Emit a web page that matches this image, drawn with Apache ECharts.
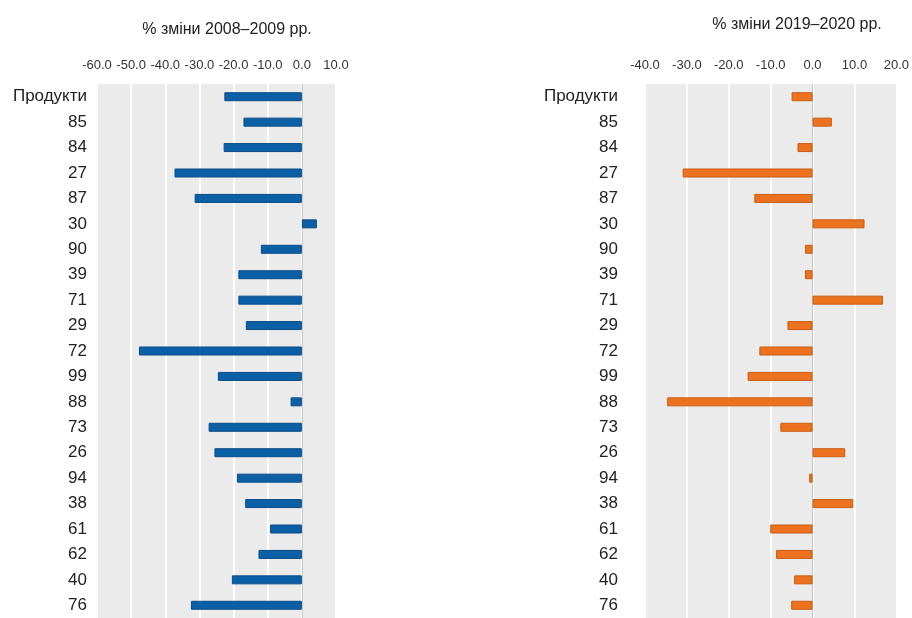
<!DOCTYPE html>
<html>
<head>
<meta charset="utf-8">
<script src="https://cdn.jsdelivr.net/npm/echarts@6/dist/echarts.min.js"></script>
<style>
  html, body { margin: 0; padding: 0; background: #ffffff; }
  #chart { width: 912px; height: 618px; }
</style>
</head>
<body>
<div id="chart"></div>
<script>
// категорії (товарні групи) і зміни у відсотках
const categories = ['Продукти', '85', '84', '27', '87', '30', '90', '39', '71', '29', '72',
  '99', '88', '73', '26', '94', '38', '61', '62', '40', '76']
const change2009 = [-22.7, -17.1, -22.9, -37.3, -31.4, 4.4, -12.0, -18.6, -18.6, -16.4, -47.7,
  -24.6, -3.3, -27.3, -25.6, -19.0, -16.6, -9.3, -12.7, -20.5, -32.5]
const change2020 = [-5.0, 4.6, -3.6, -31.0, -13.9, 12.4, -1.8, -1.8, 16.8, -6.0, -12.7,
  -15.5, -34.7, -7.7, 7.8, -0.8, 9.7, -10.1, -8.7, -4.4, -5.1]
const titles = ['% зміни 2008–2009 рр.', '% зміни 2019–2020 рр.']

const font = '"Liberation Sans Narrow", "Arial Narrow", "Liberation Sans", Arial, sans-serif'

function valueAxis(gridIndex, min, max) {
  return {
    type: 'value',
    gridIndex,
    position: 'top',
    min,
    max,
    interval: 10,
    axisLine: { show: false },
    axisTick: { show: false },
    splitLine: { show: true, lineStyle: { color: '#ffffff', width: 2 } },
    axisLabel: {
      margin: 12,
      color: '#333333',
      fontSize: 13,
      fontFamily: font,
      formatter: (v) => v.toFixed(1),
      showMinLabel: true,
      showMaxLabel: true,
    },
  }
}

function categoryAxis(gridIndex, margin) {
  return {
    type: 'category',
    gridIndex,
    data: categories,
    inverse: true,
    axisLine: { show: false },
    axisTick: { show: false },
    axisLabel: { margin, color: '#222222', fontSize: 17, fontFamily: font },
  }
}

function barSeries(index, data, color, border) {
  return {
    type: 'bar',
    xAxisIndex: index,
    yAxisIndex: index,
    data,
    barWidth: 9,
    itemStyle: { color, borderColor: border, borderWidth: 1 },
    markLine: {
      silent: true,
      symbol: 'none',
      label: { show: false },
      lineStyle: { color: '#c6c6c6', width: 1, type: 'solid' },
      data: [{ xAxis: 0 }],
      z: 1,
    },
  }
}

const chart = echarts.init(document.getElementById('chart'))
chart.setOption({
  animation: false,
  title: [
    { text: titles[0], left: 222, top: 17, textAlign: 'center',
      textStyle: { fontSize: 16, fontWeight: 'normal', color: '#222222', fontFamily: font } },
    { text: titles[1], left: 792, top: 12, textAlign: 'center',
      textStyle: { fontSize: 16, fontWeight: 'normal', color: '#222222', fontFamily: font } },
  ],
  grid: [
    { left: 97, right: 576, top: 84, bottom: -2, show: true, backgroundColor: '#ebebeb', borderWidth: 0 },
    { left: 645, right: 15, top: 84, bottom: -2, show: true, backgroundColor: '#ebebeb', borderWidth: 0 },
  ],
  xAxis: [valueAxis(0, -60, 10), valueAxis(1, -40, 20)],
  yAxis: [categoryAxis(0, 10), categoryAxis(1, 27)],
  series: [
    barSeries(0, change2009, '#0b5fa5', '#0a4c88'),
    barSeries(1, change2020, '#ec7220', '#c95c12'),
  ],
})
</script>
</body>
</html>
